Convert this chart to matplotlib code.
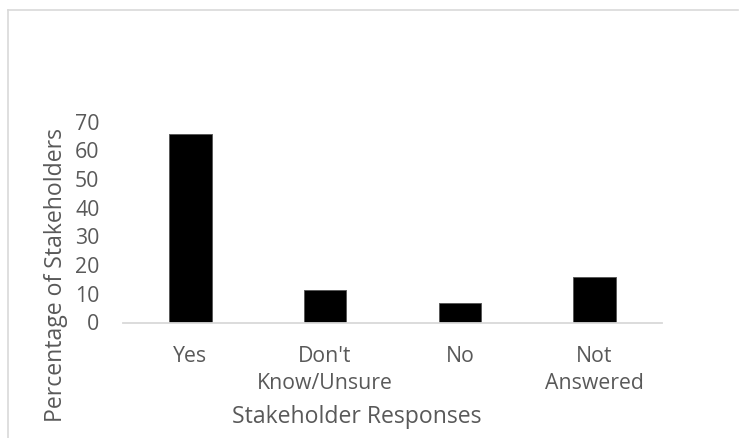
import matplotlib
matplotlib.use("Agg")
import matplotlib.pyplot as plt
from matplotlib.lines import Line2D

categories = ["Yes", "Don't\nKnow/Unsure", "No", "Not\nAnswered"]
values = [65.7, 11.3, 6.7, 16.0]
yticks = [0, 10, 20, 30, 40, 50, 60, 70]

W, H = 739, 438
plt.rcParams['font.family'] = ['Open Sans', 'DejaVu Sans']
TXT = '#595959'
GRID = '#d9d9d9'

fig = plt.figure(figsize=(W / 100, H / 100), dpi=100)
fig.patch.set_facecolor('white')

ax_left, ax_right = 123, 662
ax_bottom_px, ax_top_px = 322.5, 121.6  # from top
ax = fig.add_axes([ax_left / W, (H - ax_bottom_px) / H,
                   (ax_right - ax_left) / W, (ax_bottom_px - ax_top_px) / H])

x = list(range(len(categories)))
ax.bar(x, values, width=0.314, color='black', edgecolor='#595959', linewidth=0.7, zorder=3)
ax.set_xlim(-0.5, len(categories) - 0.5)
ax.set_ylim(0, 70)
ax.set_yticks(yticks)
ax.set_xticks(x)
ax.set_xticklabels(categories, linespacing=1.35)

for s in ['top', 'right', 'left']:
    ax.spines[s].set_visible(False)
ax.spines['bottom'].set_color(GRID)
ax.spines['bottom'].set_linewidth(1.3)
ax.spines['bottom'].set_zorder(4)

ax.tick_params(axis='y', length=0, pad=17, labelsize=15.3, labelcolor=TXT)
ax.tick_params(axis='x', length=0, pad=17, labelsize=15.3, labelcolor=TXT)

# axis titles
fig.text(61.7 / W, (H - 275.5) / H, 'Percentage of Stakeholders', rotation=90,
         rotation_mode='anchor', ha='center', va='baseline', fontsize=16.6, color=TXT)
fig.text(357 / W, (H - 423) / H, 'Stakeholder Responses', ha='center', va='baseline',
         fontsize=16.6, color=TXT)

# chart border (top and left visible)
fig.add_artist(Line2D([8 / W, 8 / W], [0, (H - 10) / H], transform=fig.transFigure,
                      color=GRID, linewidth=1.2))
fig.add_artist(Line2D([8 / W, 738 / W], [(H - 10) / H, (H - 10) / H], transform=fig.transFigure,
                      color=GRID, linewidth=1.2))

fig.savefig('out.png', dpi=100, facecolor='white')
